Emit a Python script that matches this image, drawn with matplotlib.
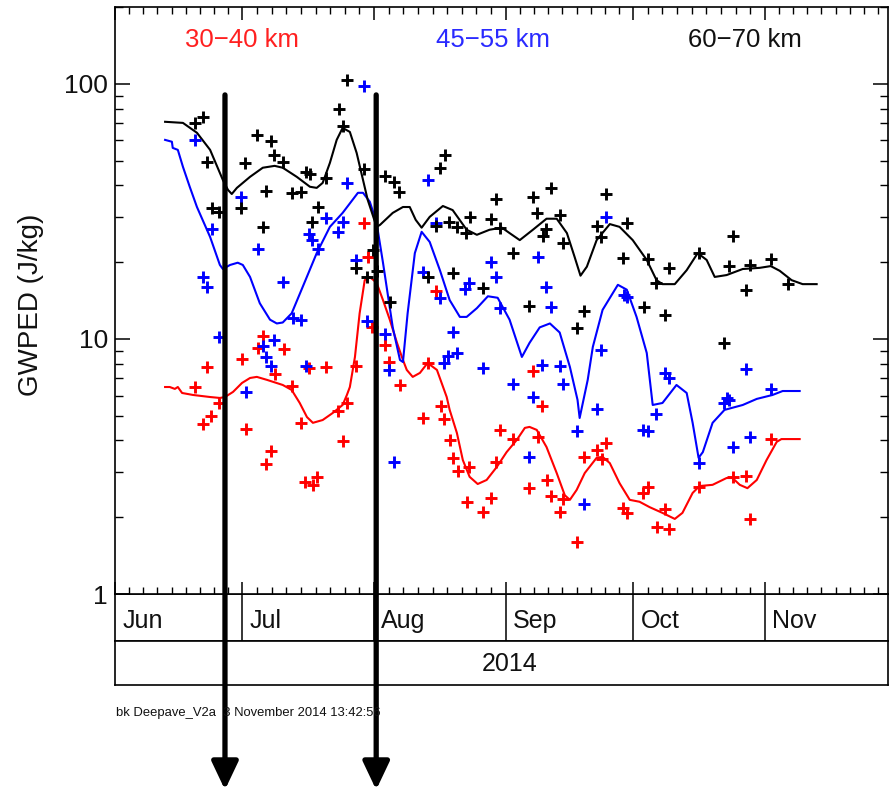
import numpy as np
import matplotlib
matplotlib.use("Agg")
import matplotlib.pyplot as plt
from matplotlib.ticker import LogLocator, NullFormatter, FixedLocator

plt.rcParams['font.family'] = ['Liberation Sans', 'DejaVu Sans']

# ---- axis layout data (day of year 2014) ----
month_starts = [152, 182, 213, 244, 274, 305, 335]
month_labels = ['Jun', 'Jul', 'Aug', 'Sep', 'Oct', 'Nov']
year_label = '2014'
x_range = (152, 334)
y_range = (1, 200)
y_ticks = [1, 10, 100]
y_tick_labels = ['1', '10', '100']
band_labels = ['30\u221240 km', '45\u221255 km', '60\u221270 km']
arrow_days = [177.9, 213.5]
arrow_top = 90.5
footer = 'bk Deepave_V2a  3 November 2014 13:42:56'

# ---- 60-70 km (black) ----
black_day = [170.8, 172.7, 173.6, 182.6, 185.4, 188.7, 189.4, 191.5, 187.5, 193.6,
             195.8, 196.9, 197.9, 201.6, 204.7, 205.6, 206.6, 210.6, 215.5, 217.6,
             218.8, 174.8, 176.5, 181.6, 186.8, 199.8, 198.4, 208.7, 211.3, 212.7,
             213.6, 216.7, 228.5, 229.6, 254.6, 250.4, 241.6, 267.5, 235.5, 240.5,
             230.6, 227.5, 232.5, 234.6, 242.6, 251.3, 256.7, 253.4, 252.7, 257.4,
             265.4, 266.4, 272.5, 245.6, 271.5, 277.4, 282.4, 279.3, 289.4, 297.4,
             296.5, 301.4, 306.4, 300.5, 310.4, 225.6, 231.5, 238.6, 249.4, 262.4,
             260.7, 276.5, 281.4, 295.5]
black_val = [70.3, 74.2, 49.4, 49.0, 63.1, 59.8, 52.7, 49.4, 38.1, 37.4,
             37.7, 45.2, 44.4, 42.8, 79.8, 68.4, 103.7, 46.4, 43.6, 41.3,
             37.7, 32.6, 31.5, 32.6, 27.5, 32.9, 28.8, 19.0, 17.5, 22.3,
             18.5, 14.0, 46.9, 52.7, 39.1, 36.0, 35.4, 37.0, 30.1, 29.6,
             28.8, 27.7, 27.5, 26.0, 27.3, 31.2, 30.6, 27.0, 25.3, 23.8,
             27.7, 25.1, 28.5, 21.7, 20.8, 20.6, 19.0, 16.6, 21.7, 25.3,
             19.3, 19.5, 20.6, 15.6, 16.4, 17.5, 18.2, 15.8, 13.5, 12.9,
             11.0, 13.4, 12.4, 9.65]
black_curve_day = [163.8, 168.0, 171.3, 174.4, 177.4, 178.6, 179.5, 180.7, 183.8, 186.8,
                   189.6, 191.5, 194.8, 197.9, 199.5, 200.9, 202.6, 204.2, 205.6, 207.3,
                   208.9, 210.4, 211.5, 213.6, 214.4, 217.4, 219.8, 221.4, 222.8, 224.2,
                   226.1, 229.2, 231.5, 234.8, 237.2, 240.2, 243.1, 244.9, 247.3, 250.4,
                   253.6, 256.0, 258.4, 260.2, 261.6, 263.1, 265.4, 268.5, 270.8, 273.9,
                   277.2, 279.5, 280.9, 283.8, 286.6, 289.2, 291.3, 293.2, 296.0, 299.8,
                   303.8, 306.4, 308.5, 311.3, 313.9, 317.2]
black_curve_val = [71.0, 70.3, 64.3, 55.1, 42.0, 38.4, 37.0, 39.1, 43.2, 46.9,
                   47.7, 46.9, 43.2, 39.5, 39.1, 40.9, 49.0, 60.3, 67.2, 64.8,
                   53.6, 42.0, 35.1, 27.5, 28.0, 31.2, 32.9, 32.9, 29.3, 27.3,
                   30.1, 33.2, 32.0, 26.8, 25.6, 26.8, 27.3, 26.0, 24.4, 26.8,
                   29.6, 29.6, 26.0, 21.0, 17.7, 19.2, 24.4, 28.2, 27.5, 24.4,
                   20.4, 17.0, 16.4, 16.4, 18.6, 21.7, 20.4, 17.5, 17.8, 18.8,
                   19.0, 19.3, 18.5, 17.0, 16.4, 16.4]

# ---- 45-55 km (blue) ----
blue_day = [225.6, 170.8, 210.6, 206.6, 181.6, 227.5, 267.5, 240.5, 251.5, 224.5,
            241.6, 235.3, 234.4, 228.5, 253.4, 271.8, 272.5, 242.6, 254.6, 231.5,
            232.5, 230.4, 229.4, 238.6, 266.4, 252.5, 256.7, 245.6, 257.4, 250.4,
            281.4, 282.4, 300.5, 306.4, 296.2, 265.4, 260.7, 249.4, 262.4, 279.3,
            276.2, 277.4, 289.4, 295.5, 296.5, 297.4, 301.4, 174.8, 185.6, 172.7,
            173.6, 191.5, 176.5, 193.9, 195.8, 197.6, 198.4, 199.8, 201.6, 204.5,
            205.6, 208.7, 211.3, 215.5, 186.8, 187.5, 189.4, 188.7, 196.9, 182.8,
            216.5, 217.6]
blue_val = [42.0, 60.3, 98.2, 40.9, 36.0, 28.5, 30.1, 20.0, 21.0, 18.3,
            17.5, 16.6, 15.7, 14.5, 16.0, 14.9, 14.6, 13.2, 13.4, 10.6,
            8.81, 8.58, 8.05, 7.70, 9.05, 7.91, 7.84, 6.66, 6.66, 5.92,
            7.36, 7.03, 7.63, 6.37, 5.87, 5.31, 4.36, 3.45, 2.25, 5.08,
            4.40, 4.36, 3.26, 5.61, 5.77, 3.77, 4.13, 27.0, 22.5, 17.5,
            16.0, 16.7, 10.2, 12.1, 11.9, 25.8, 24.4, 22.5, 29.8, 26.3,
            28.8, 20.4, 11.8, 10.5, 9.39, 8.50, 9.91, 7.84, 7.84, 6.20,
            7.56, 3.29]
blue_curve_day = [163.8, 165.4, 165.6, 166.8, 168.0, 169.6, 171.3, 174.4, 176.7, 177.4,
                  179.1, 180.9, 182.1, 183.8, 186.1, 188.5, 190.1, 191.5, 193.6, 196.2,
                  199.5, 202.6, 205.6, 209.2, 210.4, 212.0, 213.6, 215.1, 217.4, 219.1,
                  219.8, 220.9, 222.6, 224.2, 226.1, 228.5, 230.8, 233.2, 234.8, 237.2,
                  239.8, 242.1, 244.9, 247.8, 249.6, 252.0, 254.4, 256.7, 259.1, 260.9,
                  261.4, 263.3, 264.5, 266.8, 270.4, 272.5, 274.8, 277.2, 278.6, 280.9,
                  284.2, 286.6, 288.0, 289.4, 290.4, 292.7, 295.5, 299.8, 303.1, 306.8,
                  309.2, 313.2]
blue_curve_val = [60.3, 59.3, 56.1, 55.1, 47.3, 39.5, 32.9, 25.1, 19.5, 18.8,
                  19.5, 19.9, 19.5, 17.5, 13.8, 11.9, 11.5, 11.6, 12.6, 16.0,
                  21.7, 27.5, 31.2, 37.4, 37.4, 34.5, 28.5, 19.9, 11.1, 8.27,
                  8.12, 12.6, 21.7, 26.3, 24.0, 18.6, 14.2, 12.2, 12.2, 13.2,
                  14.7, 14.5, 11.9, 8.50, 9.65, 11.1, 11.5, 10.6, 7.77, 5.77,
                  4.90, 6.91, 9.30, 13.0, 16.3, 15.6, 12.2, 8.81, 5.51, 5.61,
                  6.60, 6.14, 4.69, 3.42, 3.60, 4.69, 5.27, 5.51, 5.82, 6.03,
                  6.25, 6.25]

# ---- 30-40 km (red) ----
red_day = [227.5, 225.6, 250.4, 219.1, 224.5, 228.7, 229.4, 252.5, 230.8, 231.5,
           232.7, 235.3, 242.6, 245.6, 251.5, 241.6, 234.8, 238.6, 240.5, 249.4,
           253.6, 254.6, 257.4, 256.7, 260.7, 262.4, 265.4, 267.5, 266.6, 271.5,
           272.5, 276.2, 277.4, 281.4, 279.5, 282.4, 289.4, 297.4, 300.5, 301.4,
           306.4, 186.8, 185.6, 191.8, 181.9, 173.6, 170.8, 189.6, 197.6, 201.6,
           208.7, 193.6, 210.6, 211.5, 212.5, 215.5, 216.5, 176.5, 174.6, 172.7,
           182.8, 188.7, 187.5, 195.8, 196.7, 198.6, 199.5, 204.5, 206.6, 205.6]
red_val = [15.4, 8.05, 7.49, 6.60, 4.90, 5.46, 4.86, 5.46, 4.02, 3.42,
           3.04, 3.15, 4.40, 4.05, 4.13, 3.29, 2.30, 2.10, 2.38, 2.60,
           2.80, 2.42, 2.36, 2.10, 1.60, 3.45, 3.67, 3.91, 3.38, 2.17,
           2.08, 2.49, 2.63, 2.15, 1.83, 1.80, 2.63, 2.88, 2.90, 1.97,
           4.05, 10.3, 9.22, 9.14, 8.35, 7.77, 6.48, 7.29, 7.70, 7.77,
           7.84, 6.54, 28.5, 21.0, 11.1, 9.47, 8.12, 5.61, 4.99, 4.64,
           4.44, 3.64, 3.24, 4.69, 2.75, 2.68, 2.88, 5.22, 5.61, 3.98]
red_curve_day = [163.8, 164.9, 166.1, 166.8, 167.8, 170.4, 174.4, 176.7, 177.9, 179.8,
                 181.9, 183.8, 185.4, 187.8, 191.5, 193.6, 195.5, 197.2, 198.6, 200.9,
                 203.3, 205.6, 206.6, 207.3, 208.5, 209.6, 210.8, 212.0, 213.6, 215.1,
                 216.7, 218.4, 219.8, 220.7, 222.1, 223.8, 225.6, 227.8, 230.1, 230.8,
                 232.5, 233.9, 235.5, 237.4, 239.5, 241.9, 244.2, 246.6, 248.5, 249.6,
                 251.3, 253.6, 256.0, 257.9, 259.1, 260.7, 262.6, 265.4, 266.8, 268.5,
                 270.8, 273.2, 275.5, 277.9, 280.9, 283.8, 285.6, 288.0, 289.6, 292.7,
                 296.0, 297.4, 299.1, 300.9, 303.1, 305.4, 307.8, 308.9, 313.2]
red_curve_val = [6.48, 6.48, 6.37, 6.48, 6.14, 6.03, 5.92, 5.87, 5.92, 6.20,
                 6.72, 7.03, 7.10, 6.91, 6.60, 6.31, 5.61, 4.94, 4.69, 4.81,
                 5.13, 5.51, 6.03, 6.48, 8.50, 12.6, 17.0, 17.5, 16.6, 14.2,
                 11.9, 9.65, 8.27, 7.56, 7.10, 7.36, 8.05, 7.56, 5.92, 5.27,
                 4.28, 3.35, 2.88, 2.70, 2.80, 3.15, 3.60, 4.02, 4.48, 4.52,
                 4.40, 3.77, 2.98, 2.44, 2.34, 2.56, 2.98, 3.42, 3.45, 3.26,
                 2.72, 2.34, 2.30, 2.19, 2.08, 1.97, 2.08, 2.49, 2.65, 2.68,
                 2.85, 2.85, 2.68, 2.60, 2.80, 3.35, 3.95, 4.05, 4.05]

series = [
    (red_day, red_val, red_curve_day, red_curve_val, '#ff0000', '#ff2020'),
    (blue_day, blue_val, blue_curve_day, blue_curve_val, '#0000ff', '#2a2aff'),
    (black_day, black_val, black_curve_day, black_curve_val, '#000000', '#111111'),
]

fig = plt.figure(figsize=(8.94, 7.93), dpi=100)
ax = fig.add_axes([0.1286, 0.2509, 0.8647, 0.7402])
ax.set_zorder(3)
ax.set_yscale('log')
ax.set_xlim(*x_range)
ax.set_ylim(*y_range)

for days, vals, cdays, cvals, col, _ in series:
    ax.plot(cdays, cvals, color=col, lw=1.5, zorder=2, solid_joinstyle='round')
for days, vals, cdays, cvals, col, _ in series:
    ax.plot(days, vals, linestyle='none', marker='+', color=col,
            markersize=8.5, markeredgewidth=2.1, zorder=3)

text_x = [0.164, 0.489, 0.815]
for (lab, (_, _, _, _, _, tcol), tx) in zip(band_labels, series, text_x):
    ax.text(tx, 0.944, lab, transform=ax.transAxes, ha='center', va='center',
            color=tcol, fontsize=18.5)

# y axis
ax.set_yticks(y_ticks, y_tick_labels)
ax.yaxis.set_minor_locator(LogLocator(base=10, subs=np.arange(2, 10)))
ax.yaxis.set_minor_formatter(NullFormatter())
ax.set_ylabel('GWPED (J/kg)', fontsize=20, color='#111111')
ax.yaxis.set_label_coords(-0.092, 0.492)

# x axis: month ticks, subdivided minor ticks
minor = []
for a, b in zip(month_starts[:-1], month_starts[1:]):
    step = (b - a) / 9.0
    minor += [a + k * step for k in range(1, 9)]
minor = [m for m in minor if x_range[0] < m < x_range[1]]
ax.xaxis.set_major_locator(FixedLocator(month_starts[:-1]))
ax.xaxis.set_minor_locator(FixedLocator(minor))
ax.xaxis.set_major_formatter(NullFormatter())

ax.tick_params(axis='y', which='major', direction='in', length=11, width=1.1,
               right=True, labelsize=19, pad=5, labelcolor='#111111')
ax.tick_params(axis='y', which='minor', direction='in', length=6, width=1.0, right=True)
ax.tick_params(axis='x', which='major', direction='in', length=9, width=1.1, top=True)
ax.tick_params(axis='x', which='minor', direction='in', length=5, width=1.0, top=True)
for sp in ax.spines.values():
    sp.set_linewidth(1.2)

# arrows marking two dates
for d in arrow_days:
    ax.annotate('', xy=(d, 0.004), xycoords=('data', 'figure fraction'),
                xytext=(d, arrow_top), textcoords='data',
                arrowprops=dict(arrowstyle='-|>,head_length=0.95,head_width=0.45',
                                mutation_scale=18, lw=3.8, color='k',
                                shrinkA=0, shrinkB=0),
                annotation_clip=False, zorder=10)

# month band
bx = fig.add_axes([0.1286, 0.1917, 0.8647, 0.0593])
bx.set_zorder(1)
bx.set_xlim(*x_range)
bx.set_ylim(0, 1)
bx.set_xticks([])
bx.set_yticks([])
for m in month_starts[1:-1]:
    bx.axvline(m, color='k', lw=1.1)
for m, lab in zip(month_starts[:-1], month_labels):
    bx.text(m + 1.7, 0.42, lab, ha='left', va='center', fontsize=18, color='#111111')
for sp in bx.spines.values():
    sp.set_linewidth(1.2)

# year band
cx = fig.add_axes([0.1286, 0.1362, 0.8647, 0.0555])
cx.set_zorder(1)
cx.set_xlim(*x_range)
cx.set_xticks([])
cx.set_yticks([])
cx.text(0.51, 0.47, year_label, transform=cx.transAxes, ha='center', va='center',
        fontsize=18, color='#111111')
for sp in cx.spines.values():
    sp.set_linewidth(1.2)

fig.text(116 / 894, 1 - 713 / 793, footer, fontsize=9.4, va='center', color='#111111')

fig.savefig('out.png', dpi=100)
